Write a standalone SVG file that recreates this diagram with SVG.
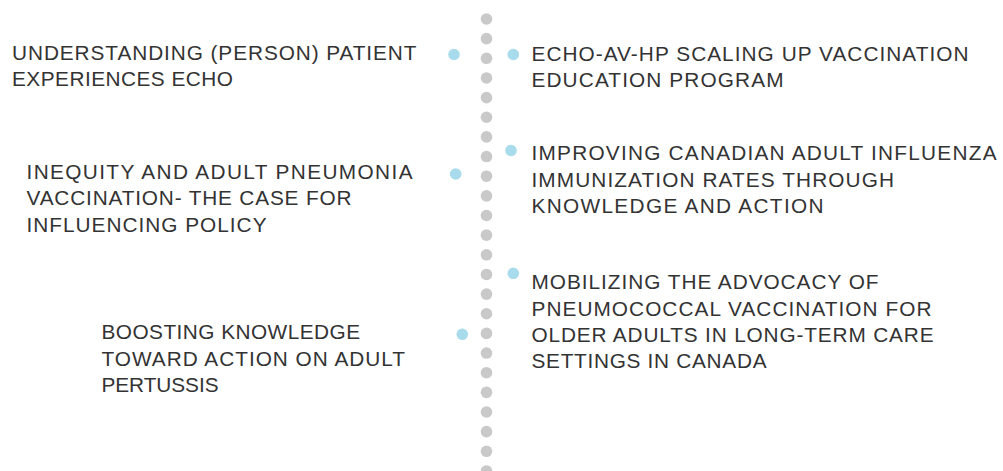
<svg xmlns="http://www.w3.org/2000/svg" width="1003" height="471" viewBox="0 0 1003 471">
<style>
.t{font-family:"Liberation Sans",Arial,sans-serif;font-size:20.8px;fill:#333333;}
.g{fill:#c9c9c9;}
.b{fill:#a8dcec;}
</style>
<defs>
<circle id="gd" r="5.8" class="g"/>
</defs>
<rect width="1003" height="471" fill="#ffffff"/>
<g id="connectors">
<use href="#gd" x="486.5" y="19"/>
<use href="#gd" x="486.5" y="38.65"/>
<use href="#gd" x="486.5" y="58.3"/>
<use href="#gd" x="486.5" y="77.95"/>
<use href="#gd" x="486.5" y="97.6"/>
<use href="#gd" x="486.5" y="117.25"/>
<use href="#gd" x="486.5" y="136.9"/>
<use href="#gd" x="486.5" y="156.55"/>
<use href="#gd" x="486.5" y="176.2"/>
<use href="#gd" x="486.5" y="195.85"/>
<use href="#gd" x="486.5" y="215.5"/>
<use href="#gd" x="486.5" y="235.15"/>
<use href="#gd" x="486.5" y="254.8"/>
<use href="#gd" x="486.5" y="274.45"/>
<use href="#gd" x="486.5" y="294.1"/>
<use href="#gd" x="486.5" y="313.75"/>
<use href="#gd" x="486.5" y="333.4"/>
<use href="#gd" x="486.5" y="353.05"/>
<use href="#gd" x="486.5" y="372.7"/>
<use href="#gd" x="486.5" y="392.35"/>
<use href="#gd" x="486.5" y="412"/>
<use href="#gd" x="486.5" y="431.65"/>
<use href="#gd" x="486.5" y="451.3"/>
<use href="#gd" x="486.5" y="470.95"/>
</g>
<g id="node-understanding">
<circle class="b" cx="454" cy="54.5" r="5.8"/>
<text class="t" x="12" y="60.3" textLength="404.5" lengthAdjust="spacing">UNDERSTANDING (PERSON) PATIENT</text>
<text class="t" x="12" y="86.3" textLength="221" lengthAdjust="spacing">EXPERIENCES ECHO</text>
</g>
<g id="node-inequity">
<circle class="b" cx="455.7" cy="174" r="5.8"/>
<text class="t" x="26.5" y="178.5" textLength="386" lengthAdjust="spacing">INEQUITY AND ADULT PNEUMONIA</text>
<text class="t" x="26.5" y="205" textLength="325" lengthAdjust="spacing">VACCINATION- THE CASE FOR</text>
<text class="t" x="26.5" y="231.7" textLength="240" lengthAdjust="spacing">INFLUENCING POLICY</text>
</g>
<g id="node-boosting">
<circle class="b" cx="462.3" cy="334.3" r="5.8"/>
<text class="t" x="101.5" y="339" textLength="258.5" lengthAdjust="spacing">BOOSTING KNOWLEDGE</text>
<text class="t" x="101.5" y="365.5" textLength="303.5" lengthAdjust="spacing">TOWARD ACTION ON ADULT</text>
<text class="t" x="101.5" y="392" textLength="117" lengthAdjust="spacing">PERTUSSIS</text>
</g>
<g id="node-echo-av-hp">
<circle class="b" cx="513.3" cy="54.5" r="5.8"/>
<text class="t" x="531.5" y="60.6" textLength="437" lengthAdjust="spacing">ECHO-AV-HP SCALING UP VACCINATION</text>
<text class="t" x="531.5" y="86.5" textLength="252" lengthAdjust="spacing">EDUCATION PROGRAM</text>
</g>
<g id="node-improving">
<circle class="b" cx="511" cy="150.5" r="5.8"/>
<text class="t" x="531.5" y="160" textLength="465" lengthAdjust="spacing">IMPROVING CANADIAN ADULT INFLUENZA</text>
<text class="t" x="531.5" y="186.6" textLength="362.5" lengthAdjust="spacing">IMMUNIZATION RATES THROUGH</text>
<text class="t" x="531.5" y="213" textLength="292" lengthAdjust="spacing">KNOWLEDGE AND ACTION</text>
</g>
<g id="node-mobilizing">
<circle class="b" cx="513.3" cy="273.3" r="5.8"/>
<text class="t" x="531.5" y="289.4" textLength="347" lengthAdjust="spacing">MOBILIZING THE ADVOCACY OF</text>
<text class="t" x="531.5" y="315.5" textLength="400" lengthAdjust="spacing">PNEUMOCOCCAL VACCINATION FOR</text>
<text class="t" x="531.5" y="342" textLength="402" lengthAdjust="spacing">OLDER ADULTS IN LONG-TERM CARE</text>
<text class="t" x="531.5" y="368.4" textLength="235" lengthAdjust="spacing">SETTINGS IN CANADA</text>
</g>
</svg>
